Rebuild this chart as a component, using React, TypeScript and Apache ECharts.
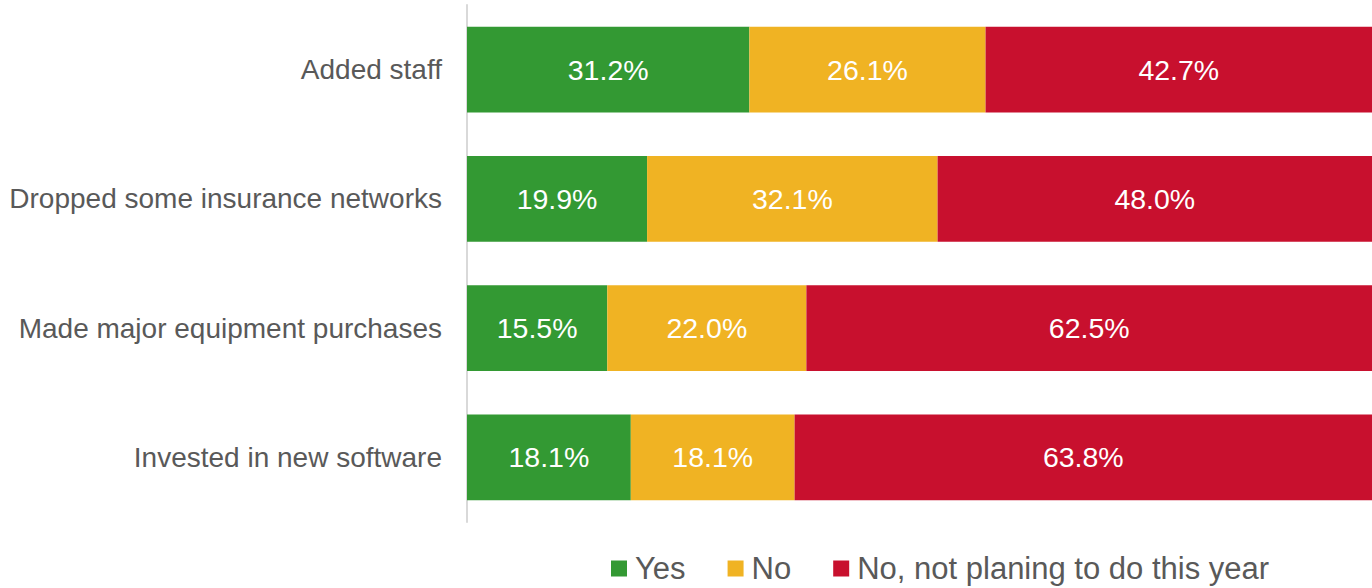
import React, { useEffect, useRef } from "react";
import * as echarts from "echarts";

const categories = [
  "Added staff",
  "Dropped some insurance networks",
  "Made major equipment purchases",
  "Invested in new software",
];
const seriesNames = ["Yes", "No", "No, not planing to do this year"];
const yesValues = [31.2, 19.9, 15.5, 18.1];
const noValues = [26.1, 32.1, 22.0, 18.1];
const notPlanningValues = [42.7, 48.0, 62.5, 63.8];
const colors = ["#339933", "#F0B323", "#C8102E"];

export default function App() {
  const ref = useRef<HTMLDivElement>(null);
  useEffect(() => {
    if (!ref.current) return;
    const chart = echarts.init(ref.current, undefined, { renderer: "svg" });
    const font = "Liberation Sans, Arial, sans-serif";
    const data = [yesValues, noValues, notPlanningValues];
    chart.setOption({
      animation: false,
      textStyle: { fontFamily: font },
      grid: { left: 467, right: 0, top: 5, bottom: 66, containLabel: false },
      legend: {
        left: 611,
        top: 553,
        padding: 0,
        itemWidth: 16,
        itemHeight: 16,
        itemGap: 42,
        icon: "rect",
        textStyle: { fontSize: 31, color: "#595959", fontFamily: font, padding: [0, 0, 0, 3] },
        data: seriesNames,
      },
      xAxis: {
        type: "value",
        min: 0,
        max: 100,
        show: false,
      },
      yAxis: {
        type: "category",
        inverse: true,
        data: categories,
        axisLine: { show: true, lineStyle: { color: "#D9D9D9", width: 2 } },
        axisTick: { show: false },
        axisLabel: { fontSize: 28, color: "#595959", margin: 25, fontFamily: font },
      },
      series: seriesNames.map((name, i) => ({
        name,
        type: "bar",
        stack: "total",
        barWidth: "66.5%",
        itemStyle: { color: colors[i] },
        label: {
          show: true,
          position: "inside",
          color: "#ffffff",
          fontSize: 28.5,
          fontFamily: font,
          formatter: (p: any) => p.value.toFixed(1) + "%",
        },
        data: data[i],
      })),
    });
    return () => chart.dispose();
  }, []);
  return (
    <div
      ref={ref}
      style={{ position: "fixed", left: 0, top: 0, width: 1372, height: 588, background: "#fff" }}
    />
  );
}
